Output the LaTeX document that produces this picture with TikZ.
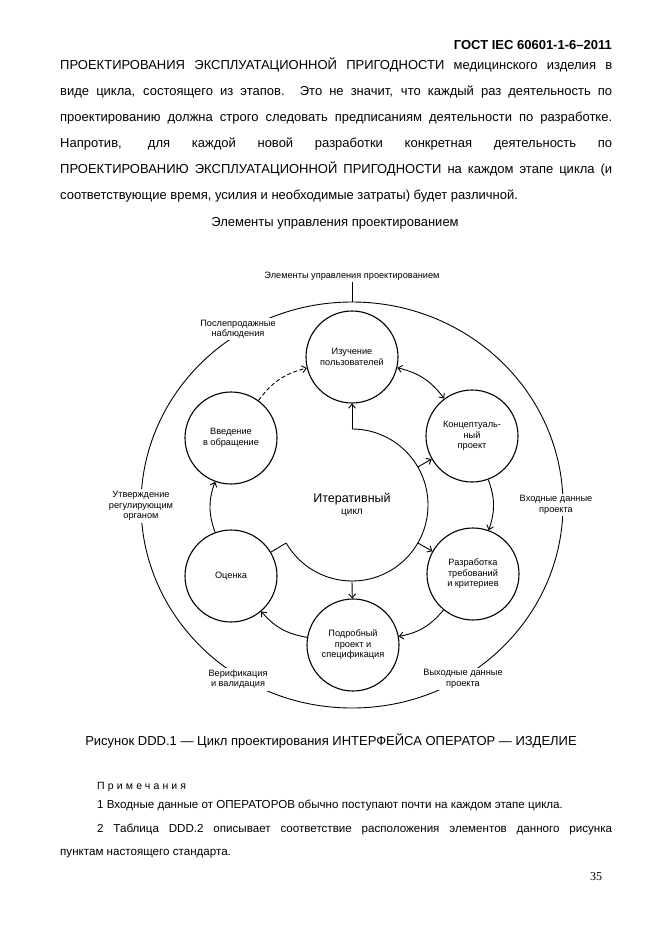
\documentclass[tikz,border=0pt]{standalone}
\usepackage{fontspec}
\setmainfont{Liberation Sans}
\newfontfamily\pagefont{Liberation Serif}
\usetikzlibrary{arrows.meta,calc}
\begin{document}
\begin{tikzpicture}[x=1pt,y=1pt,
  every node/.style={inner sep=0pt},
  body/.style={anchor=base west, font=\fontsize{13}{15}\selectfont},
  stage/.style={circle, draw, line width=1.1pt, minimum size=92pt, inner sep=0pt, align=center, font=\fontsize{9.2}{10.5}\selectfont},
  lbl/.style={fill=white, inner sep=2pt, align=center, font=\fontsize{9.2}{10.5}\selectfont},
  conn/.style={line width=0.9pt},
  tip/.tip={Straight Barb[length=4pt,width=7pt,line width=0.9pt]},
  arr/.style={conn, -tip},
]
\path[use as bounding box, fill=white] (0,0) rectangle (661,-936);

% header and body text
\node[anchor=base east, font=\fontsize{13}{15}\selectfont\bfseries] (hdr) at (612,-50) {ГОСТ IEC 60601-1-6–2011};
\node[body] (l1) at (60,-70) {\makebox[552pt][s]{ПРОЕКТИРОВАНИЯ ЭКСПЛУАТАЦИОННОЙ ПРИГОДНОСТИ медицинского изделия в}};
\node[body] (l2) at (60,-95.8) {\makebox[552pt][s]{виде цикла, состоящего из этапов. Это не значит, что каждый раз деятельность по}};
\node[body] (l3) at (60,-121.6) {\makebox[552pt][s]{проектированию должна строго следовать предписаниям деятельности по разработке.}};
\node[body] (l4) at (60,-147.4) {\makebox[552pt][s]{Напротив, для каждой новой разработки конкретная деятельность по}};
\node[body] (l5) at (60,-173.2) {\makebox[552pt][s]{ПРОЕКТИРОВАНИЮ ЭКСПЛУАТАЦИОННОЙ ПРИГОДНОСТИ на каждом этапе цикла (и}};
\node[body] (l6) at (60,-199) {соответствующие время, усилия и необходимые затраты) будет различной.};
\node[anchor=base, font=\fontsize{13}{15}\selectfont] (title) at (335,-226.5) {Элементы управления проектированием};

% diagram
\coordinate (ctr) at (352,-505);
\draw[conn] (ctr) ellipse [x radius=211, y radius=203];
\node[lbl] (top) at (352,-276) {Элементы управления проектированием};
\coordinate (otop) at (352,-302);
\draw[conn] (top.south) -- (otop);
\node[lbl] (post) at (238,-329) {Послепродажные\\наблюдения};
\node[lbl] (utv) at (141,-506) {Утверждение\\регулирующим\\органом};
\node[lbl] (ver) at (238,-679) {Верификация\\и валидация};
\node[lbl] (vyh) at (463,-679) {Выходные данные\\проекта};
\node[lbl] (vho) at (556,-505) {Входные данные\\проекта};

\node[stage] (izu) at (352,-357) {Изучение\\пользователей};
\node[stage] (kon) at (472,-436) {Концептуаль-\\ный\\проект};
\node[stage] (raz) at (473,-574) {Разработка\\требований\\и критериев};
\node[stage] (pod) at (353,-645) {Подробный\\проект и\\спецификация};
\node[stage] (oce) at (231,-576) {Оценка};
\node[stage] (vve) at (231,-438) {Введение\\в обращение};

% iterative cycle
\coordinate (i90) at ($(ctr)+(90:76)$);
\coordinate (i30) at ($(ctr)+(30:76)$);
\coordinate (im30) at ($(ctr)+(-30:76)$);
\coordinate (im90) at ($(ctr)+(-90:76)$);
\coordinate (i210) at ($(ctr)+(210:76)$);
\draw[conn] (i90) arc[start angle=90, end angle=-150, radius=76];
\node[align=center] (iter) at (352,-505) {{\fontsize{12.5}{15}\selectfont Итеративный}\\{\fontsize{10}{12}\selectfont цикл}};
\draw[arr] (i90) -- (izu);
\draw[arr] (i30) -- (kon);
\draw[arr] (im30) -- (raz);
\draw[arr] (im90) -- (pod);
\draw[conn] (oce) -- (i210);

% ring arrows
\draw[conn, tip-tip] (izu) to[bend left=20] (kon);
\draw[arr] (kon) to[bend left=20] (raz);
\draw[arr] (raz) to[bend left=20] (pod);
\draw[arr] (pod) to[bend left=20] (oce);
\draw[arr] (oce) to[bend left=20] (vve);
\draw[arr, dash pattern=on 4pt off 2.5pt] (vve) to[bend left=20] (izu);

% caption and notes
\node[anchor=base, font=\fontsize{13}{15}\selectfont] (cap) at (331,-745) {Рисунок DDD.1 — Цикл проектирования ИНТЕРФЕЙСА ОПЕРАТОР — ИЗДЕЛИЕ};
\node[anchor=base west, font=\fontsize{10.5}{12}\selectfont\addfontfeature{LetterSpace=30}] (nh) at (97,-789) {Примечания};
\node[anchor=base west, font=\fontsize{11.6}{13}\selectfont] (n1) at (97,-808) {1 Входные данные от ОПЕРАТОРОВ обычно поступают почти на каждом этапе цикла.};
\node[anchor=base west, font=\fontsize{11.6}{13}\selectfont] (n2) at (97,-832) {\makebox[515pt][s]{2 Таблица DDD.2 описывает соответствие расположения элементов данного рисунка}};
\node[anchor=base west, font=\fontsize{11.6}{13}\selectfont] (n3) at (60,-855) {пунктам настоящего стандарта.};
\node[anchor=base, font=\pagefont\fontsize{12}{14}\selectfont] (pg) at (596,-880) {35};
\end{tikzpicture}
\end{document}
